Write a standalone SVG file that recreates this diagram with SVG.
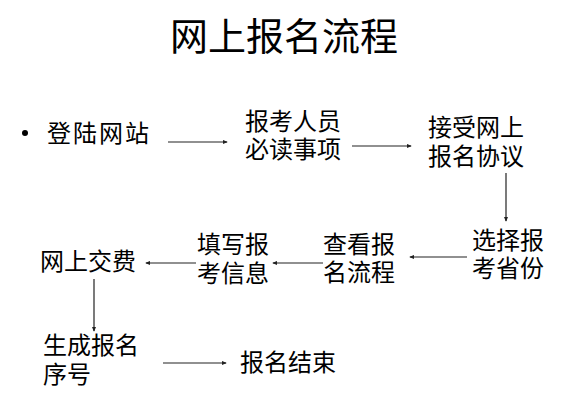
<svg xmlns="http://www.w3.org/2000/svg" width="585" height="413" viewBox="0 0 585 413">
<style>
text{font-family:"Noto Sans CJK SC","Noto Sans",sans-serif;fill:#000;}
.t{font-size:24px;}
.title{font-size:38px;}
.c{stroke:#222;stroke-width:1.2;fill:none;marker-end:url(#ah);}
</style>
<defs>
<marker id="ah" viewBox="0 0 6 6" refX="5" refY="3" markerWidth="5" markerHeight="5" orient="auto" markerUnits="userSpaceOnUse">
<path d="M0,0.5 L6,3 L0,5.5 Z" fill="#222"/>
</marker>
</defs>
<rect width="585" height="413" fill="#fff"/>
<text class="title" x="284" y="50" text-anchor="middle">网上报名流程</text>
<g id="connectors">
<line class="c" x1="168" y1="142" x2="227" y2="142"/>
<line class="c" x1="352" y1="146" x2="411" y2="146"/>
<line class="c" x1="506" y1="173" x2="506" y2="221"/>
<line class="c" x1="467" y1="257" x2="410" y2="257"/>
<line class="c" x1="323" y1="263" x2="273" y2="263"/>
<line class="c" x1="196" y1="263" x2="146" y2="263"/>
<line class="c" x1="94" y1="279" x2="94" y2="331"/>
<line class="c" x1="163" y1="363" x2="226" y2="363"/>
</g>
<g id="n1">
<circle cx="25" cy="133" r="3" fill="#000"/>
<text class="t" x="47" y="142" letter-spacing="2">登陆网站</text>
</g>
<g id="n2">
<text class="t"><tspan x="245" y="130">报考人员</tspan><tspan x="245" y="158">必读事项</tspan></text>
</g>
<g id="n3">
<text class="t"><tspan x="428" y="136">接受网上</tspan><tspan x="428" y="165">报名协议</tspan></text>
</g>
<g id="n4">
<text class="t"><tspan x="472" y="249">选择报</tspan><tspan x="472" y="277">考省份</tspan></text>
</g>
<g id="n5">
<text class="t"><tspan x="323" y="253">查看报</tspan><tspan x="323" y="281">名流程</tspan></text>
</g>
<g id="n6">
<text class="t"><tspan x="197" y="253">填写报</tspan><tspan x="197" y="282">考信息</tspan></text>
</g>
<g id="n7">
<text class="t" x="40" y="270">网上交费</text>
</g>
<g id="n8">
<text class="t"><tspan x="43" y="354">生成报名</tspan><tspan x="43" y="383">序号</tspan></text>
</g>
<g id="n9">
<text class="t" x="240" y="371">报名结束</text>
</g>
</svg>
